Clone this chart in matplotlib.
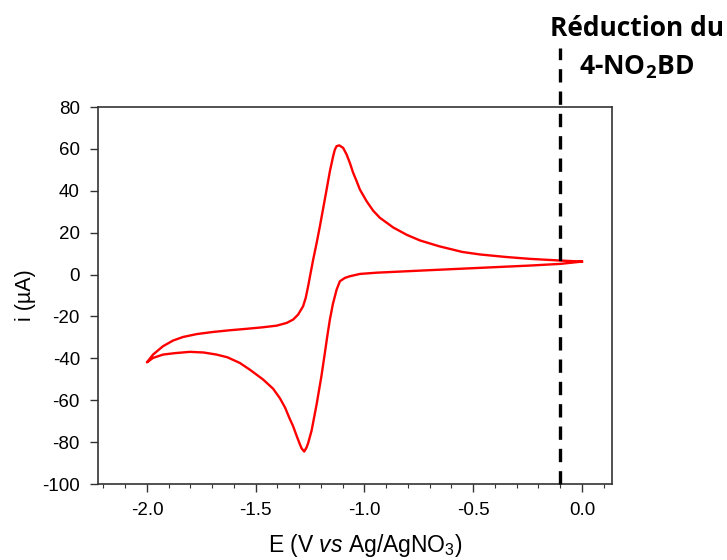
import matplotlib
matplotlib.use('Agg')
import matplotlib.pyplot as plt
from matplotlib.ticker import MultipleLocator, FormatStrFormatter

plt.rcParams['font.family'] = ['Liberation Sans', 'DejaVu Sans']
plt.rcParams['axes.unicode_minus'] = False
plt.rcParams['mathtext.fontset'] = 'custom'
plt.rcParams['mathtext.rm'] = 'Liberation Sans'
plt.rcParams['mathtext.it'] = 'Liberation Sans:italic'
plt.rcParams['mathtext.bf'] = 'Open Sans:bold'

# Cathodic sweep (0 V -> -2.0 V)
e_fwd = [0.0, -0.1, -0.24, -0.47, -0.70, -0.944, -1.021, -1.067, -1.09, -1.113,
         -1.128, -1.145, -1.159, -1.171, -1.182, -1.198, -1.22, -1.243, -1.259,
         -1.266, -1.277, -1.289, -1.297, -1.31, -1.328, -1.345, -1.365, -1.389,
         -1.42, -1.466, -1.527, -1.573, -1.63, -1.68, -1.74, -1.803, -1.87,
         -1.926, -1.972, -2.0]
i_fwd = [6.2, 5.1, 4.3, 3.2, 2.1, 0.9, 0.3, -0.8, -1.6, -3.2,
         -7.2, -14.0, -21.5, -29.5, -37.4, -48.6, -62.0, -74.5, -80.5,
         -82.5, -84.5, -83.0, -81.0, -77.5, -72.4, -68.5, -63.5, -59.0,
         -54.5, -50.1, -45.4, -42.2, -39.5, -38.2, -37.2, -36.9, -37.5,
         -38.2, -39.8, -41.9]

# Anodic sweep (-2.0 V -> 0 V)
e_rev = [-2.0, -1.972, -1.926, -1.88, -1.834, -1.77, -1.696, -1.62, -1.542,
         -1.47, -1.404, -1.358, -1.328, -1.305, -1.282, -1.27, -1.259, -1.248,
         -1.236, -1.22, -1.205, -1.19, -1.174, -1.159, -1.144, -1.136, -1.128,
         -1.116, -1.098, -1.082, -1.067, -1.052, -1.036, -1.021, -0.99, -0.96,
         -0.929, -0.868, -0.806, -0.745, -0.656, -0.55, -0.469, -0.35, -0.239,
         -0.101, 0.0]
i_rev = [-41.9, -38.2, -34.2, -31.5, -29.8, -28.4, -27.4, -26.6, -25.9,
         -25.2, -24.4, -23.1, -21.5, -19.1, -15.1, -11.1, -5.6, 0.5,
         7.0, 15.0, 23.0, 31.5, 40.6, 49.3, 56.5, 59.7, 61.3,
         61.7, 60.5, 57.3, 53.3, 48.6, 44.6, 40.6, 35.0, 30.5,
         27.1, 22.5, 19.0, 16.3, 13.5, 10.8, 9.6, 8.4, 7.5,
         6.7, 6.2]

e_marker = -0.1  # dashed line position

fig = plt.figure(figsize=(7.27, 5.6), dpi=100)
ax = fig.add_axes([0.1348, 0.1357, 0.707, 0.6732])

ax.plot(e_fwd + e_rev, i_fwd + i_rev, color='#ff0000', lw=1.7,
        solid_joinstyle='round')

ax.plot([e_marker, e_marker], [-100, 108], color='black', lw=2.4,
        dashes=(4, 2.7), clip_on=False, zorder=5)

ax.set_xlim(-2.225, 0.138)
ax.set_ylim(-100, 80)
ax.xaxis.set_major_locator(MultipleLocator(0.5))
ax.xaxis.set_minor_locator(MultipleLocator(0.1))
ax.yaxis.set_major_locator(MultipleLocator(20))
ax.xaxis.set_major_formatter(FormatStrFormatter('%.1f'))
ax.tick_params(which='major', length=6, width=1, labelsize=13.5, pad=7, color='#333333')
ax.tick_params(which='minor', length=3, width=0.8, color='#333333')
for s in ax.spines.values():
    s.set_linewidth(1.2)
    s.set_color('#333333')

ax.set_xlabel(r'E (V $\it{vs}$ Ag/AgNO$_3$)', fontsize=16.5)
ax.xaxis.set_label_coords(0.52, -0.127)
ax.set_ylabel('i (µA)', fontsize=15.5)
ax.yaxis.set_label_coords(-0.12, 0.5)

fig.text(0.876, 0.950, 'Réduction du', fontsize=19, fontweight='bold',
         family='Open Sans', ha='center', va='center')
fig.text(0.876, 0.880, r'4-NO$_\mathbf{2}$BD', fontsize=19, fontweight='bold',
         family='Open Sans', ha='center', va='center')

fig.savefig('out.png', dpi=100)
